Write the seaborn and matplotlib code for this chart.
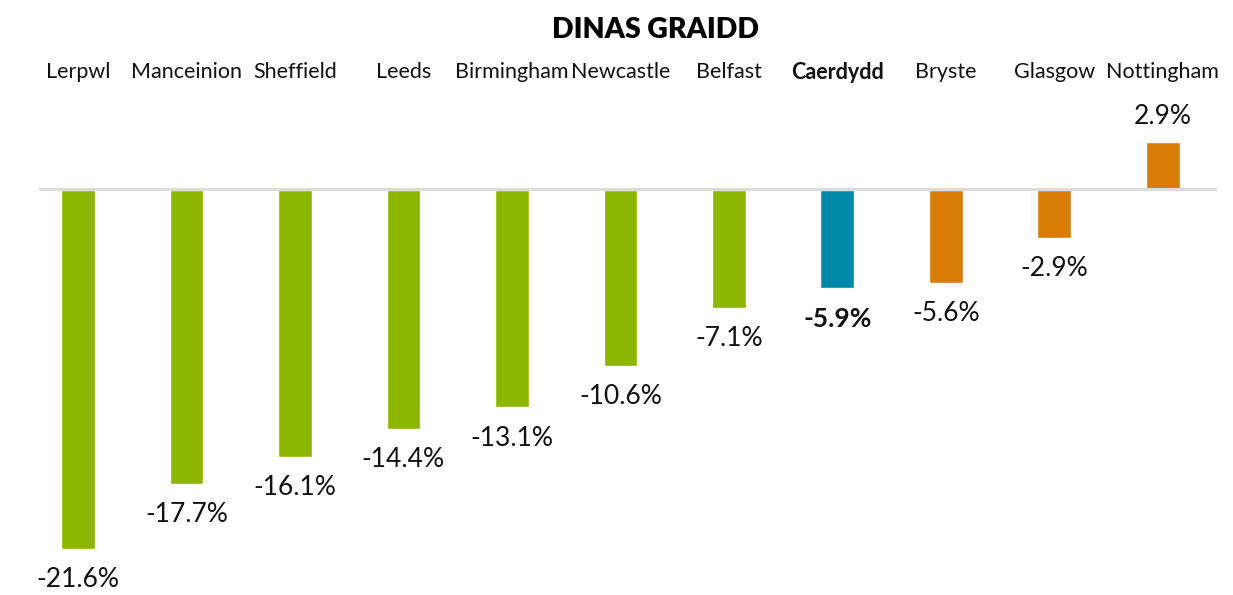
import matplotlib
matplotlib.use("Agg")
import matplotlib.pyplot as plt
import seaborn as sns

cities = ["Lerpwl", "Manceinion", "Sheffield", "Leeds", "Birmingham", "Newcastle",
          "Belfast", "Caerdydd", "Bryste", "Glasgow", "Nottingham"]
changes = [-21.6, -17.7, -16.1, -14.4, -13.1, -10.6, -7.1, -5.9, -5.6, -2.9, 2.9]
bar_colors = ["#8db600"] * 7 + ["#0088a9"] + ["#d97c06"] * 3
highlight = "Caerdydd"

sns.set_style("white")
plt.rcParams["font.family"] = ["Lato", "DejaVu Sans"]

W, H = 1233, 595
fig = plt.figure(figsize=(W / 100, H / 100), dpi=100)
# axes spans full height; x range mapped so bar centres land at reference pixels
x_left, x_right = 23.7, 1217.0
ax = fig.add_axes([x_left / W, 0, (x_right - x_left) / W, 1])

sns.barplot(x=cities, y=changes, hue=cities, palette=bar_colors, legend=False,
            width=0.31, saturation=1, ax=ax, zorder=2)

ax.set_xlim(-0.5, 10.5)
ax.set_ylim(-24.4, 11.45)
ax.axis("off")

# baseline
ax.axhline(0.05, xmin=(40 - x_left) / (x_right - x_left), xmax=1.0,
           color="#dcdcdc", lw=2.2, zorder=3)

for i, (c, v) in enumerate(zip(cities, changes)):
    bold = c == highlight
    ax.text(i, 7.1, c, ha="center", va="center", fontsize=15.5,
            fontweight="bold" if bold else "normal", color="#111111")
    off = 22 if v < 0 else -18
    ax.annotate(f"{v:.1f}%", (i, v), xytext=(0, -off), textcoords="offset points",
                ha="center", va="center", fontsize=19,
                fontweight="bold" if bold else "normal", color="#111111")

fig.text(655 / W, 1 - 30 / H, "DINAS GRAIDD", ha="center", va="center",
         fontsize=20.5, fontweight="heavy", color="#000000")

fig.savefig("out.png", dpi=100)
